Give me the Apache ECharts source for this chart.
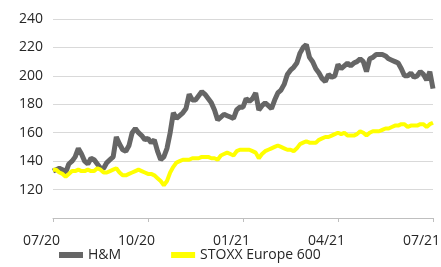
<!DOCTYPE html>
<html>
<head>
<meta charset="utf-8">
<script src="https://cdn.jsdelivr.net/npm/echarts@6/dist/echarts.min.js"></script>
<style type="text/css">
	html,body{margin:0;padding:0;background:#fff;}
	#main{width:441px;height:267px;}
</style>
</head>
<body>
<div id="main"></div>
<script type="text/javascript">
// tick labels every 30 points (quarters)
var tickLabels = ['07/20', '10/20', '01/21', '04/21', '07/21'];
var seriesNames = ['H&M', 'STOXX Europe 600'];

var hm = [
	133,134,135,134,132,138,140,143,149,145,
	140,138,142,141,138,135,135,139,141,143,
	157,152,148,147,151,160,163,160,158,155,
	156,153,155,147,141,143,149,160,174,170,
	172,174,177,187,183,183,186,189,187,184,
	181,176,169,171,173,172,171,170,176,178,
	178,184,182,184,188,176,179,181,179,177,
	183,188,190,194,201,204,206,209,216,220,
	222,213,210,205,202,198,196,201,199,200,
	208,205,207,209,207,209,210,212,210,203,
	212,213,215,215,215,214,212,211,210,209,
	205,200,200,202,199,200,203,201,197,203,
	191
];
var stoxx = [
	134,134,132,131,129,131,133,133,134,133,
	133,134,133,133,135,134,132,132,133,134,
	135,132,130,130,131,132,133,134,133,132,
	131,131,130,128,126,123,126,132,136,139,
	140,141,141,141,142,142,142,143,143,143,
	142,142,141,144,145,146,145,144,147,148,
	148,148,148,147,146,142,145,147,148,149,
	150,151,150,149,148,148,147,149,152,153,
	154,153,153,153,155,156,157,157,158,159,
	160,159,160,158,158,158,159,161,160,158,
	160,161,161,161,162,163,163,164,165,165,
	166,166,164,165,165,165,166,166,164,166,
	167
];

var categories = hm.map(function(v, i){ return i; });

var chart = echarts.init(document.getElementById('main'));
var font = '"Open Sans", "Liberation Sans", sans-serif';

chart.setOption({
	animation: false,
	textStyle: {fontFamily: font},
	grid: {left: 53, right: 8, top: 19, bottom: 49, outerBoundsMode: 'none', containLabel: false},
	legend: {
		left: 54,
		bottom: 0,
		itemWidth: 24,
		itemHeight: 6,
		itemGap: 50,
		icon: 'rect',
		textStyle: {fontSize: 14, color: '#262626', fontFamily: font},
		data: seriesNames
	},
	xAxis: {
		type: 'category',
		data: categories,
		boundaryGap: false,
		axisLine: {lineStyle: {color: '#bfbfbf', width: 1}},
		axisTick: {interval: 29, length: 4, lineStyle: {color: '#bfbfbf'}},
		axisLabel: {
			interval: 29,
			margin: 16,
			fontSize: 14,
			color: '#262626',
			// labels sit a bit left of their ticks in the original
			padding: [0, 23, 0, 0],
			formatter: function(v, i){ return tickLabels[Math.round(i / 30)]; }
		},
		splitLine: {show: false}
	},
	yAxis: {
		type: 'value',
		min: 100,
		max: 240,
		interval: 20,
		axisLine: {show: false},
		axisTick: {show: false},
		axisLabel: {
			fontSize: 14,
			color: '#262626',
			margin: 10,
			formatter: function(v){ return v == 100 ? '' : v; }
		},
		splitLine: {lineStyle: {color: '#d9d9d9', width: 1}}
	},
	series: [
		{
			name: seriesNames[0],
			type: 'line',
			data: hm,
			showSymbol: false,
			itemStyle: {color: '#666666'},
			lineStyle: {color: '#666666', width: 5}
		},
		{
			name: seriesNames[1],
			type: 'line',
			data: stoxx,
			showSymbol: false,
			itemStyle: {color: '#ffff00'},
			lineStyle: {color: '#ffff00', width: 4}
		}
	]
});
</script>
</body>
</html>
